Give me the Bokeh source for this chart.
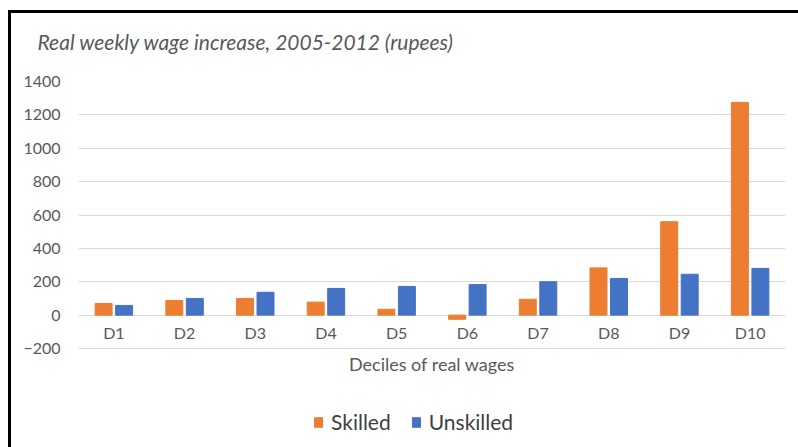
from bokeh.plotting import figure
from bokeh.models import Range1d, ColumnDataSource, Legend, LegendItem, Title
from bokeh.transform import dodge
from bokeh.embed import file_html
from bokeh.resources import INLINE

deciles = ["D1", "D2", "D3", "D4", "D5", "D6", "D7", "D8", "D9", "D10"]
skilled = [70, 88, 100, 78, 35, -25, 95, 283, 560, 1275]
unskilled = [58, 100, 137, 160, 172, 183, 200, 220, 245, 280]
y_ticks = [-200, 0, 200, 400, 600, 800, 1000, 1200, 1400]
x_title = "Deciles of real wages"

ORANGE = "#ED7D31"
BLUE = "#4472C4"
GRAY = "#595959"
FONT = "Lato"

# layout: plotting band of 267 px for the value axis, plus 100 px under it
# (inside the frame) for the axis title and the legend
BAND_PX = 267
EXTRA_PX = 100
y_lo, y_hi = y_ticks[0], y_ticks[-1]
y_min = y_lo - (y_hi - y_lo) * EXTRA_PX / BAND_PX

src = ColumnDataSource(dict(cat=deciles, skilled=skilled, unskilled=unskilled))

p = figure(x_range=deciles, y_range=Range1d(y_min, y_hi),
           frame_width=707, frame_height=BAND_PX + EXTRA_PX,
           output_backend="svg", toolbar_location=None,
           min_border_left=67, min_border_right=13, min_border_top=67, min_border_bottom=0)
p.margin = (10, 0, 0, 8)
p.styles = {"border-top": "3px solid black", "border-left": "3px solid black"}
p.outline_line_color = None
p.background_fill_color = "white"
p.border_fill_color = "white"

r1 = p.vbar(x=dodge("cat", -0.145, range=p.x_range), top="skilled", width=0.24,
            source=src, color=ORANGE)
r2 = p.vbar(x=dodge("cat", 0.145, range=p.x_range), top="unskilled", width=0.24,
            source=src, color=BLUE)

# category labels drawn just under the zero line
p.text(x="cat", y=0, text="cat", source=src, y_offset=17,
       text_align="center", text_baseline="middle",
       text_font={"value": FONT}, text_font_size="16px", text_color=GRAY)

# horizontal axis title, centred under the categories, below the lowest gridline
p.text(x=[deciles[4]], y=[y_lo], text=[x_title], x_offset=707 / 20, y_offset=15,
       text_align="center", text_baseline="middle",
       text_font={"value": FONT}, text_font_size="18px", text_color=GRAY)

# small spacer between frame and title
p.add_layout(Title(text=" ", text_font_size="8px", standoff=4), "above")
p.title = Title(text="Real weekly wage increase, 2005-2012 (rupees)", text_font=FONT,
                text_font_style="italic", text_font_size="21px", text_color=GRAY,
                align="left", offset=-41, standoff=26)

p.yaxis.ticker = y_ticks
p.yaxis.axis_line_color = None
p.yaxis.major_tick_line_color = None
p.yaxis.minor_tick_line_color = None
p.yaxis.major_label_text_font = FONT
p.yaxis.major_label_text_font_size = "16px"
p.yaxis.major_label_text_color = GRAY
p.yaxis.major_label_standoff = 12

p.xaxis.visible = False
p.xgrid.grid_line_color = None
p.ygrid.grid_line_color = "#D9D9D9"
p.ygrid.grid_line_width = 1

legend = Legend(items=[LegendItem(label="Skilled", renderers=[r1]),
                       LegendItem(label="Unskilled", renderers=[r2])],
                orientation="horizontal", location=(235, 14), margin=0, padding=0,
                label_text_font=FONT, label_text_font_size="21px", label_text_color="#404040",
                label_height=25, glyph_width=10, glyph_height=12, label_standoff=8, spacing=20,
                border_line_color=None, background_fill_alpha=0)
p.add_layout(legend, "center")

open("out.html", "w").write(file_html(p, INLINE))
